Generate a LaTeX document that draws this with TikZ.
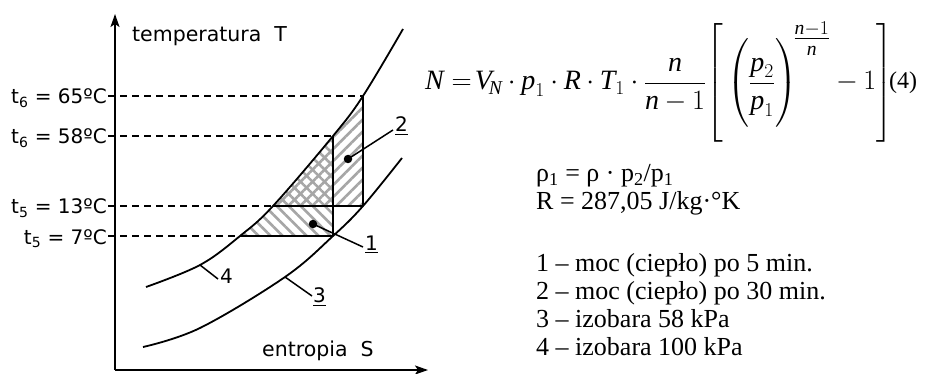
\RequirePackage{fix-cm}
\documentclass[tikz,border=0pt]{standalone}
\usepackage{amsmath}
\usepackage{fontspec}
\setmainfont{Liberation Serif}
\newfontfamily\labfont{DejaVu Sans}
\usetikzlibrary{arrows.meta,patterns.meta}
\newcommand\tmi[1]{\textit{#1}}
\begin{document}
\begin{tikzpicture}[x=1pt,y=-1pt,
  axis/.style={line width=1.8pt,-{Stealth[length=13pt,width=9pt,inset=3pt]}},
  curve/.style={line width=1.8pt},
  thin/.style={line width=1.5pt},
  dashline/.style={line width=1.5pt,dash pattern=on 7pt off 5pt},
  lab/.style={font=\labfont\fontsize{20}{24}\selectfont,inner sep=0pt},
  txt/.style={font=\fontsize{26}{29}\selectfont,inner sep=0pt,anchor=base west},
  dot/.style={circle,fill=black,inner sep=0pt,minimum size=8.5pt},
  hatchA/.style={pattern={Lines[angle=-45,distance=8.5pt,line width=2.6pt]},pattern color=gray!70},
  hatchB/.style={pattern={Lines[angle=45,distance=8.5pt,line width=2.6pt]},pattern color=gray!70}]
\useasboundingbox (0,0) rectangle (931,374);
\def\curveD{plot[smooth,tension=0.6] coordinates {(146,287) (200,265) (240,236) (273,206) (333,136) (363,96) (403,29)}}
\def\curveC{plot[smooth,tension=0.6] coordinates {(143,347) (200,328) (285,277) (333,236) (363,206) (402,158)}}
% hatched regions
\begin{scope}
  \clip \curveD -- (600,29) -- (600,400) -- (146,400) -- cycle;
  \fill[hatchA] (150,136) rectangle (333,236);
  \fill[hatchB] (150,96) rectangle (363,206);
\end{scope}
% axes
\coordinate (O) at (115,370);
\coordinate (Ytip) at (115,14);
\coordinate (Xtip) at (428,370);
\draw[axis] (O) -- (Ytip);
\draw[axis] (O) -- (Xtip);
\node[lab,anchor=base west,font=\labfont\fontsize{20.5}{24}\selectfont] (tT) at (132,42) {temperatura\ \ T};
\node[lab,anchor=base west,font=\labfont\fontsize{20.5}{24}\selectfont] (tS) at (262,356) {entropia\ \ S};
% curves
\draw[curve] \curveD;
\draw[curve] \curveC;
% corner points
\coordinate (a65) at (363,96);
\coordinate (a58) at (333,136);
\coordinate (a13) at (273,206);
\coordinate (b13) at (363,206);
\coordinate (a7) at (240,236);
\coordinate (b7) at (333,236);
% temperature labels
\node[lab,anchor=base east] (L65) at (107,104) {t\textsubscript{6} = 65ºC};
\node[lab,anchor=base east] (L58) at (107,144) {t\textsubscript{6} = 58ºC};
\node[lab,anchor=base east] (L13) at (107,214) {t\textsubscript{5} = 13ºC};
\node[lab,anchor=base east] (L7) at (107,244) {t\textsubscript{5} = 7ºC};
\coordinate (s65) at (108,96);
\coordinate (s58) at (108,136);
\coordinate (s13) at (108,206);
\coordinate (s7) at (108,236);
\draw[dashline] (s65) -- (a65);
\draw[dashline] (s58) -- (a58);
\draw[dashline] (s13) -- (a13);
\draw[dashline] (s7) -- (a7);
% solid lines
\draw[thin] (a13) -- (b13);
\draw[thin] (a7) -- (b7);
\draw[thin] (a58) -- (b7);
\draw[thin] (a65) -- (b13);
% dots and labels
\node[dot] (d1) at (313,224) {};
\node[dot] (d2) at (348,159) {};
\coordinate (e1) at (363,247);
\coordinate (e2) at (393,130);
\draw[thin] (d1.center) -- (e1);
\draw[thin] (d2.center) -- (e2);
\node[lab,anchor=base west] (n1) at (365,250) {\underline{1}};
\node[lab,anchor=base west] (n2) at (395,132) {\underline{2}};
\coordinate (c4) at (200,265);
\coordinate (e4) at (218,279);
\draw[thin] (c4) -- (e4);
\node[lab,anchor=base west] (n4) at (220,283) {4};
\coordinate (c3) at (285,277);
\coordinate (e3) at (312,296);
\draw[thin] (c3) -- (e3);
\node[lab,anchor=base west] (n3) at (313,302) {\underline{3}};
% formula
\node[txt,font=\fontsize{28}{30}\selectfont] (formula) at (425,90)
  {\medmuskip=3.6mu $\displaystyle \tmi{N} \mathrel{=}\!\tmi{V}_{\!\tmi{N}}\cdot \tmi{p}_1\cdot \tmi{R}\cdot \tmi{T}_1\cdot \frac{\tmi{n}}{\tmi{n}-1}\!\left[\rule[-50pt]{0pt}{118pt}\left(\rule[-30pt]{0pt}{80pt}\frac{\tmi{p}_2}{\tmi{p}_1}\right)^{\!\genfrac{}{}{}{1}{\tmi{n}-1}{\tmi{n}}} - 1\right]$};
\node[txt,font=\fontsize{24}{28}\selectfont] (eqno) at (889,89) {(4)};
% text block
\node[txt] (r1) at (536,182) {ρ\textsubscript{1} = ρ · p\textsubscript{2}/p\textsubscript{1}};
\node[txt] (r2) at (536,210) {R = 287,05 J/kg·°K};
\node[txt] (k1) at (536,271) {1 – moc (ciepło) po 5 min.};
\node[txt] (k2) at (536,299) {2 – moc (ciepło) po 30 min.};
\node[txt] (k3) at (536,327) {3 – izobara 58 kPa};
\node[txt] (k4) at (536,355) {4 – izobara 100 kPa};
\end{tikzpicture}
\end{document}
